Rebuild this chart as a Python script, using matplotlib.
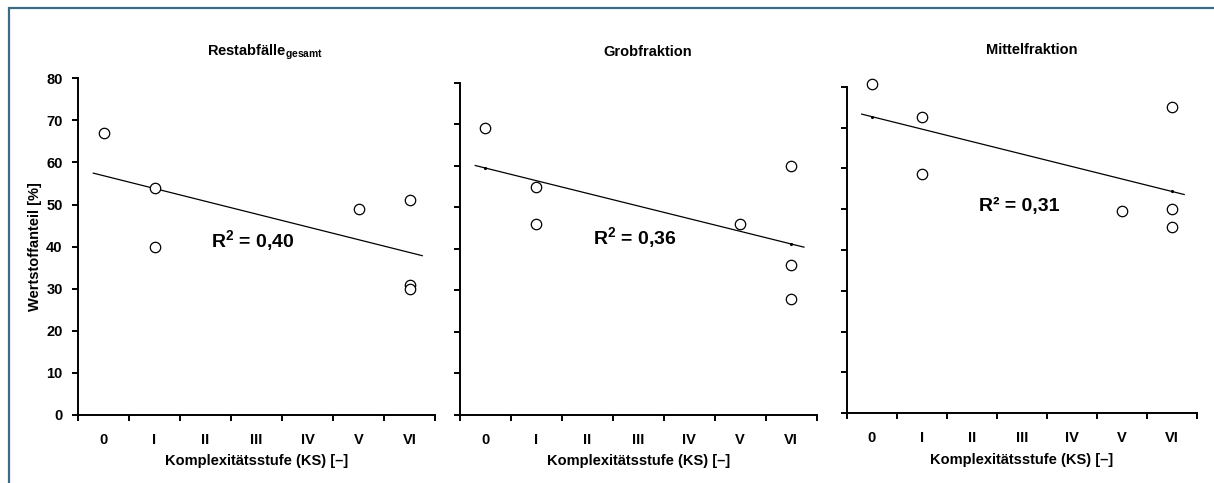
import numpy as np
import matplotlib
matplotlib.use("Agg")
import matplotlib.pyplot as plt
from matplotlib.patches import Rectangle

plt.rcParams['font.family'] = ['Liberation Sans', 'DejaVu Sans']
plt.rcParams['font.weight'] = 'bold'
plt.rcParams['mathtext.fontset'] = 'custom'
plt.rcParams['mathtext.rm'] = 'Liberation Sans:bold'
plt.rcParams['mathtext.it'] = 'Liberation Sans:bold'
plt.rcParams['mathtext.bf'] = 'Liberation Sans:bold'
plt.rcParams['mathtext.default'] = 'rm'

# Komplexitätsstufen (category index 0..6)
stufen = ['0', 'I', 'II', 'III', 'IV', 'V', 'VI']
ks = [0, 1, 1, 5, 6, 6, 6]

titles = ['Restabfälle$_{gesamt}$', 'Grobfraktion', 'Mittelfraktion']
rest_gesamt = [67, 54, 40, 49, 51, 31, 30]
grobfraktion = [69, 55, 46, 46, 60, 36, 28]
mittelfraktion = [80.6, 72.7, 58.6, 49.6, 75.1, 50.1, 45.7]
r2_labels = ['R$^{2}$ = 0,40', 'R$^{2}$ = 0,36', 'R² = 0,31']

W, H = 1214, 483

def box(left, top, right, bottom):
    return [left / W, 1 - bottom / H, (right - left) / W, (bottom - top) / H]

fig = plt.figure(figsize=(W / 100, H / 100), dpi=100)

# outer frame (only top and left edge are inside the canvas)
fig.patches.append(Rectangle((9 / W, -0.2), 1.2, 1.2 - 8 / H, transform=fig.transFigure,
                             fill=False, edgecolor='#3d6a85', lw=1.6))

axes_px = [(78, 78.3, 435, 415), (460, 82.7, 816.7, 415), (846.7, 86.7, 1196.7, 413.3)]
r2_pos = [(253, 241), (635, 238), (1019, 206)]
title_pos = [(265, 52), (648, 52), (1032, 50)]
line_dots = [False, True, True]
series = [rest_gesamt, grobfraktion, mittelfraktion]

for i, (vals, p) in enumerate(zip(series, axes_px)):
    ax = fig.add_axes(box(*p))
    x = np.array(ks, dtype=float)
    y = np.array(vals, dtype=float)

    ax.plot(x, y, 'o', ms=7.5, mfc='white', mec='black', mew=0.9, clip_on=False, zorder=3)

    # linear trend
    k, d = np.polyfit(x, y, 1)
    xt = np.array([-0.2, 6.25])
    ax.plot(xt, k * xt + d, color='black', lw=0.9, zorder=2)
    if line_dots[i]:
        ax.plot([0, 6], [d, 6 * k + d], 'k.', ms=2.5, zorder=2)

    ax.set_xlim(-0.5, 6.5)
    ax.set_ylim(0, 80)
    for s in ['top', 'right']:
        ax.spines[s].set_visible(False)
    for s in ['left', 'bottom']:
        ax.spines[s].set_linewidth(1.4)

    ax.set_xticks(range(7))
    ax.set_xticklabels(stufen, fontsize=10.5, fontweight='bold')
    ax.set_xticks(np.arange(-0.5, 7, 1), minor=True)
    ax.tick_params(axis='x', which='major', length=0, pad=13)
    ax.tick_params(axis='x', which='minor', length=4, width=1.4, direction='out')
    ax.set_yticks(range(0, 81, 10))
    ax.tick_params(axis='y', length=4, width=1.4, direction='out', pad=7, labelsize=10.5)
    if i == 0:
        ax.set_yticklabels([str(v) for v in range(0, 81, 10)], fontweight='bold')
    else:
        ax.set_yticklabels([])

    tx, ty = title_pos[i]
    fig.text(tx / W, 1 - ty / H, titles[i], ha='center', va='center', fontsize=10.5, fontweight='bold')
    rx, ry = r2_pos[i]
    fig.text(rx / W, 1 - ry / H, r2_labels[i], ha='center', va='center',
             fontsize=14, fontweight='bold')
    left, top, right, bottom = p
    fig.text((left + right) / 2 / W, 1 - (bottom + 46.5) / H, 'Komplexitätsstufe (KS) [–]',
             ha='center', va='center', fontsize=10.5, fontweight='bold')

fig.text(35 / W, 1 - 247 / H, 'Wertstoffanteil [%]', rotation=90, ha='center', va='center',
         fontsize=10.5, fontweight='bold')

fig.savefig('out.png', dpi=100)
